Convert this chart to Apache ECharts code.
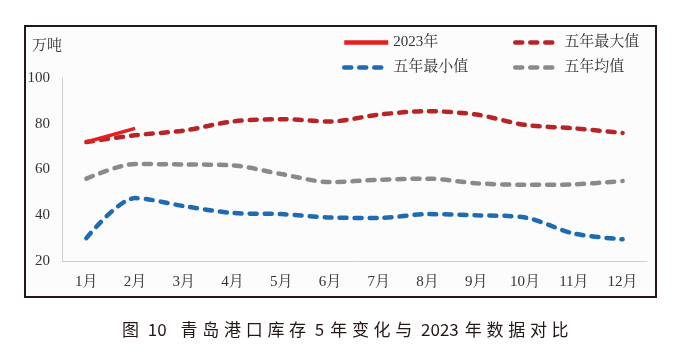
<!DOCTYPE html>
<html><head><meta charset="utf-8">
<script src="https://cdn.jsdelivr.net/npm/echarts@6/dist/echarts.min.js"></script>
<style>
html,body{margin:0;padding:0;background:#fff}
#wrap{position:relative;width:675px;height:356px}
#c{width:675px;height:356px}
#cap{position:absolute;left:122px;top:319px;font:17px "Noto Sans CJK SC",sans-serif;color:#231815;white-space:nowrap;line-height:20px}
#cap span{display:inline-block}
#cap .z{letter-spacing:4.7px}
#cap .d{letter-spacing:0px;margin:0 6px 0 4px}
#cap .d1{letter-spacing:0px;margin:0 14px 0 4px}
</style>
</head><body><div id="wrap"><div id="c"></div><div id="cap"></div></div>
<script>
var categories = ['1月','2月','3月','4月','5月','6月','7月','8月','9月','10月','11月','12月'];
var y2023 = [72, 78];
var maxVals = [72, 75, 77, 81, 82, 81, 84, 85.5, 84, 79.5, 78, 76];
var minVals = [30, 47.5, 44, 41, 40.5, 39, 38.8, 40.5, 40, 39, 32, 29.5];
var avgVals = [56, 62.4, 62.2, 61.8, 58, 54.5, 55.5, 56, 54, 53.3, 53.5, 55];
var yTicks = [20, 40, 60, 80, 100];
var captionParts = [['z','图'],['d1','10'],['z','青岛港口库存'],['d','5'],['z','年变化与'],['d','2023'],['z','年数据对比']];

var cap = document.getElementById('cap');
captionParts.forEach(function(p){
  var s = document.createElement('span'); s.className = p[0]; s.textContent = p[1]; cap.appendChild(s);
});

var serif = '"Liberation Serif","Noto Serif CJK SC","Noto Sans CJK SC",serif';
var chart = echarts.init(document.getElementById('c'));
function dashed(color){
  return {width: 4.5, color: color, type: [7, 8], cap: 'round'};
}
var legendCommon = {orient: 'vertical', top: 30, itemGap: 10, itemWidth: 44, itemHeight: 12, itemStyle: {opacity: 0},
  lineStyle: {width: 4.5},
  textStyle: {fontFamily: serif, fontSize: 15, color: '#333'}};
chart.setOption({
  animation: false,
  backgroundColor: '#fff',
  graphic: [
    {type: 'rect', shape: {x: 25, y: 26, width: 631, height: 271}, style: {fill: '#fcfcfc', stroke: '#231815', lineWidth: 2}, z: -10}
  ],
  legend: [
    Object.assign({left: 337, data: ['2023年', '五年最小值']}, legendCommon),
    Object.assign({left: 508, data: ['五年最大值', '五年均值']}, legendCommon)
  ],
  grid: {left: 62, right: 28, top: 78, bottom: 95},
  xAxis: {
    type: 'category', data: categories, boundaryGap: true,
    axisLine: {lineStyle: {color: '#cfcfcf', width: 1}},
    axisTick: {show: false},
    axisLabel: {fontFamily: serif, fontSize: 15, color: '#333', margin: 14}
  },
  yAxis: {
    type: 'value', min: yTicks[0], max: yTicks[yTicks.length-1], interval: 20,
    name: '万吨', nameLocation: 'end', nameGap: 24,
    nameTextStyle: {fontFamily: serif, fontSize: 15, color: '#333', align: 'right'},
    axisLine: {show: true, lineStyle: {color: '#cfcfcf', width: 1}},
    axisTick: {show: false},
    splitLine: {show: false},
    axisLabel: {fontFamily: serif, fontSize: 15, color: '#333', margin: 12}
  },
  series: [
    {name: '2023年', type: 'line', data: y2023, symbol: 'none', z: 5,
     lineStyle: {width: 3.5, color: '#e41f1f'}, itemStyle: {color: '#e41f1f'}},
    {name: '五年最大值', type: 'line', data: maxVals, symbol: 'none', smooth: 0.3,
     lineStyle: dashed('#b82325'), itemStyle: {color: '#b82325'}},
    {name: '五年最小值', type: 'line', data: minVals, symbol: 'none', smooth: 0.3,
     lineStyle: dashed('#1f6bb3'), itemStyle: {color: '#1f6bb3'}},
    {name: '五年均值', type: 'line', data: avgVals, symbol: 'none', smooth: 0.3,
     lineStyle: dashed('#8a8a8a'), itemStyle: {color: '#8a8a8a'}}
  ]
});
</script></body></html>
